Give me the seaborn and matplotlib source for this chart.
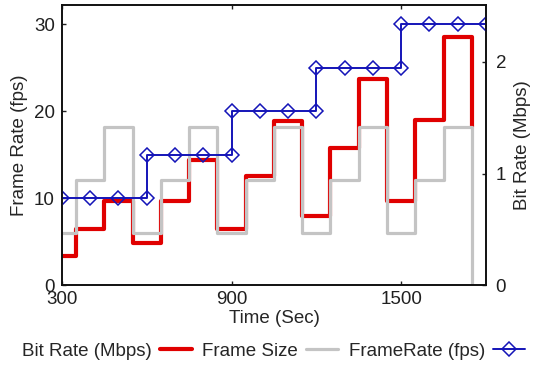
import matplotlib
matplotlib.use('Agg')
import matplotlib.pyplot as plt
import seaborn as sns

# ── DATA ──────────────────────────────────────────────────────────────────────
# frame rate steps (left axis), points every 100 s, a double point at each jump
fps_time = [300, 400, 500, 600, 600, 700, 800, 900, 900, 1000, 1100, 1200,
            1200, 1300, 1400, 1500, 1500, 1600, 1700, 1800]
fps_vals = [10, 10, 10, 10, 15, 15, 15, 15, 20, 20, 20, 20,
            25, 25, 25, 25, 30, 30, 30, 30]

# step edges for bit rate / frame size (right axis); last value = end drop
step_edges = [300, 350, 450, 550, 650, 750, 850, 950, 1050, 1150, 1250,
              1350, 1450, 1550, 1650, 1750]
bitrate = [0.26, 0.50, 0.75, 0.38, 0.75, 1.12, 0.50, 0.98, 1.47, 0.62,
           1.23, 1.85, 0.75, 1.48, 2.22, 1.42]
framesize = [0.47, 0.94, 1.42, 0.47, 0.94, 1.42, 0.47, 0.94, 1.42, 0.47,
             0.94, 1.42, 0.47, 0.94, 1.42, 0.0]

x_ticks = [300, 900, 1500]
left_ticks = [0, 10, 20, 30]
right_ticks = [0, 1, 2]

# ── STYLE ─────────────────────────────────────────────────────────────────────
sns.set_style('white')
plt.rcParams['font.family'] = ['Liberation Sans', 'DejaVu Sans']
plt.rcParams['font.size'] = 13

red = '#e00000'
gray = '#c4c4c4'
blue = '#1414b8'

fig = plt.figure(figsize=(5.34, 3.65), dpi=100)
ax = fig.add_axes([0.116, 0.219, 0.794, 0.767])
ax2 = ax.twinx()

# right axis: bit rate under frame size
sns.lineplot(x=step_edges, y=bitrate, ax=ax2, color=red, linewidth=3.0,
             drawstyle='steps-post', estimator=None, sort=False,
             label='Bit Rate (Mbps)', legend=False)
sns.lineplot(x=step_edges, y=framesize, ax=ax2, color=gray, linewidth=2.3,
             drawstyle='steps-post', estimator=None, sort=False,
             label='Frame Size', legend=False)

# left axis on top for the frame rate line
ax.set_zorder(ax2.get_zorder() + 1)
ax.patch.set_visible(False)
sns.lineplot(x=fps_time, y=fps_vals, ax=ax, color=blue, linewidth=1.4,
             marker='D', markersize=7, markerfacecolor='none',
             markeredgecolor=blue, markeredgewidth=1.1,
             estimator=None, sort=False, label='FrameRate (fps)', legend=False)

ax.set_xlim(300, 1800)
ax.set_ylim(0, 32.2)
ax2.set_ylim(0, 2.51)
ax.set_xticks(x_ticks)
ax.set_yticks(left_ticks)
ax2.set_yticks(right_ticks)

ax.set_xlabel('Time (Sec)', fontsize=13.5, labelpad=2)
ax.set_ylabel('Frame Rate (fps)', fontsize=13.5, labelpad=4)
ax2.set_ylabel('Bit Rate (Mbps)', fontsize=13.5, labelpad=6)

ax.tick_params(axis='x', direction='in', length=3, width=1, top=True,
               bottom=True, pad=4, labelsize=13.5, colors='#202020')
ax.tick_params(axis='y', direction='in', length=3, width=1, left=True,
               right=False, pad=5, labelsize=13.5, colors='#202020')
ax2.tick_params(axis='y', direction='in', length=3, width=1, right=True,
                left=False, pad=7, labelsize=13.5, colors='#202020')
for a in (ax, ax2):
    for s in a.spines.values():
        s.set_edgecolor('#101010')
        s.set_linewidth(1.2)

# legend across the bottom, label before the line sample
handles = ax2.get_lines() + ax.get_lines()
labels = [h.get_label() for h in handles]
fig.legend(handles, labels, loc='center left', bbox_to_anchor=(0.041, 0.038),
           ncol=3, frameon=False, markerfirst=False, handlelength=1.7,
           handletextpad=0.45, columnspacing=0.55, borderpad=0,
           borderaxespad=0, fontsize=13.5)

fig.savefig('out.png', dpi=100)
